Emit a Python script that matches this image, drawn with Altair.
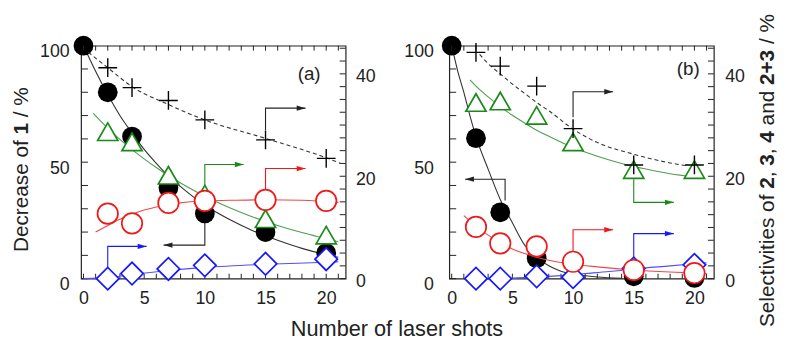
import altair as alt
import pandas as pd

FONT = "Liberation Sans"
W, H = 268, 236
XDOM = [-0.2, 21.6]
YL_DOM = [0, 100]
YR_DOM = [0, 45.5]
INK = "#222222"
GREEN_M, GREEN_L = "#1b8a1b", "#4f9f4f"
RED_M, RED_L = "#f01818", "#f04848"
BLUE_M, BLUE_L = "#1818ff", "#5050ff"

# ---------------- data ----------------
shots = [0, 2, 4, 7, 10, 15, 20]
sel_shots = [2, 4, 7, 10, 15, 20]

# panel (a)
a_dec = [100, 80, 61, 39, 28, 20, 11]
a_s23 = [41.2, 37.3, 34.8, 31.0, 27.1, 23.5]
a_s2 = [28.7, 26.7, 20.2, 16.5, 11.7, 8.5]
a_s3 = [12.7, 10.8, 14.8, 15.2, 15.4, 15.2]
a_s4 = [0.0, 1.0, 1.9, 2.6, 2.9, 3.8]

a_dec_fit_x = [0, 1, 2, 3, 4, 5, 6, 7, 8, 10, 12, 14, 16, 18, 20, 21]
a_dec_fit_y = [100, 89, 79, 70, 62.5, 55.5, 49.5, 44, 39.5, 31.5, 25.5, 20.5, 16.5, 13, 10.3, 9.2]
a_s23_fit_x = [0.4, 2, 4, 7, 10, 15, 20, 21.2]
a_s23_fit_y = [44.2, 41.2, 37.5, 34.0, 31.0, 27.4, 23.6, 22.5]
a_s2_fit_x = [0.8, 2, 3, 4, 5, 6, 7, 8, 10, 12, 14, 16, 18, 20, 21]
a_s2_fit_y = [32.3, 29.4, 27.2, 25.2, 23.4, 21.7, 20.1, 18.7, 16.1, 13.9, 12.0, 10.4, 9.0, 7.8, 7.2]
a_s3_fit_x = [1, 2, 3, 4, 5, 6, 7, 8, 10, 12, 15, 18, 21]
a_s3_fit_y = [9.1, 10.4, 11.6, 12.6, 13.4, 14.0, 14.5, 14.8, 15.2, 15.3, 15.4, 15.3, 14.9]
a_s4_fit_x = [0, 2, 4, 7, 10, 15, 20, 21]
a_s4_fit_y = [0.0, 0.2, 0.8, 1.6, 2.2, 2.8, 3.2, 3.3]

# panel (b)
b_dec_shots = [0, 2, 4, 7, 15, 20]
b_dec = [100, 60.3, 28.5, 8.8, 1.0, 0.3]
b_s23 = [44.2, 41.5, 37.6, 29.3, 22.2, 22.2]
b_s2 = [34.4, 34.7, 31.9, 26.7, 21.3, 21.3]
b_s3 = [10.1, 6.9, 6.3, 3.3, 1.7, 1.1]
b_s4 = [0.0, 0.0, 0.45, 0.3, 2.0, 2.7]

b_dec_fit_x = [0, 0.5, 1, 1.5, 2, 3, 4, 5, 6, 7, 8, 9, 10, 12, 14]
b_dec_fit_y = [100, 89, 80, 70, 61, 47, 34, 24, 14.5, 9, 5.5, 3.2, 2, 0.7, 0.2]
b_s23_fit_x = [2.3, 3, 4, 5, 6, 7, 8, 10, 12, 15, 18, 19.5]
b_s23_fit_y = [43.8, 42.0, 40.0, 38.0, 36.2, 34.4, 32.8, 29.2, 26.6, 24.3, 22.6, 22.0]
b_s2_fit_x = [1.5, 2, 3, 4, 5, 6, 7, 8, 10, 12, 14, 16, 18, 20, 20.8]
b_s2_fit_y = [38.8, 37.6, 35.5, 33.6, 31.9, 30.4, 29.0, 27.8, 25.6, 23.9, 22.5, 21.4, 20.5, 19.9, 19.7]
b_s3_fit_x = [1, 2, 3, 4, 5, 6, 7, 8, 10, 12, 15, 18, 21]
b_s3_fit_y = [12.3, 10.3, 8.5, 7.0, 5.8, 4.9, 4.2, 3.6, 2.8, 2.3, 1.7, 1.3, 1.0]
b_s4_fit_x = [2.5, 5, 7, 9, 11, 13, 15, 18, 21]
b_s4_fit_y = [0.0, 0.1, 0.3, 0.6, 1.0, 1.4, 1.9, 2.5, 3.1]

# axis-pointer arrows (x, right-axis value); last point carries the head
a_arrows_right = [
    (INK, [15, 15, 18.3], [29.0, 33.3, 33.3]),
    (GREEN_M, [10, 10, 13.2], [17.1, 22.3, 22.3]),
    (RED_M, [15, 15, 18.3], [16.7, 21.5, 21.5]),
    (BLUE_M, [2, 2, 5.2], [2.3, 6.3, 6.3]),
]
a_arrow_left = ([10, 10, 6.6], [28, 14.4, 14.4])
b_arrows_right = [
    (INK, [10, 10, 13.3], [31.5, 36.5, 36.5]),
    (GREEN_M, [15, 15, 18.3], [19.4, 14.9, 14.9]),
    (RED_M, [10, 10, 13.3], [5.25, 9.55, 9.55]),
    (BLUE_M, [15, 15, 18.3], [3.3, 8.8, 8.8]),
]
b_arrow_left = ([4.4, 4.4, 1.1], [33.5, 42.7, 42.7])

x_minor = list(range(0, 22))
x_major = [0, 5, 10, 15, 20]
yl_ticks = list(range(0, 101, 10))
yr_ticks = [i * 2.5 for i in range(0, 19)]
yr_major = [0, 20, 40]

# ---------------- scales / axes ----------------
xs = alt.Scale(domain=XDOM, nice=False, zero=False)
yls = alt.Scale(domain=YL_DOM, nice=False, zero=False)
yrs = alt.Scale(domain=YR_DOM, nice=False, zero=False)

lab = dict(labelFont=FONT, labelFontSize=18, labelColor=INK, ticks=False,
           domain=False, grid=False, title=None)
X_AXIS = alt.Axis(values=x_major, labelPadding=11, labelFlush=False, format="d", **lab)


def y_axis_left(pad):
    return alt.Axis(values=[0, 50, 100], orient="left", labelPadding=pad,
                    labelOffset=6, format="d", **lab)


def y_axis_right(pad):
    return alt.Axis(values=yr_major, orient="right", labelPadding=pad,
                    labelOffset=3, format="d", **lab)


def frame_df(xv, yv):
    return pd.DataFrame({"x": xv, "y": yv})


HEAD_R = "M0,0L-2,-0.6L-2,0.6Z"
HEAD_L = "M0,0L2,-0.6L2,0.6Z"
PLUS = "M-1,0L1,0M0,-1L0,1"


def text(t, x, y, size, weight="normal", angle=0, align="center", baseline="middle"):
    return alt.Chart(pd.DataFrame({"a": [0]})).mark_text(
        text=t, font=FONT, fontSize=size, fontWeight=weight, angle=angle,
        align=align, baseline=baseline, color=INK).encode(x=alt.value(x), y=alt.value(y))


def rotated_pieces(pieces, x, y0, size, baseline="middle"):
    # pieces: (text, weight, advance-from-start in em)
    return [text(t, x, y0 - off * size, size, w, angle=270, align="left", baseline=baseline)
            for t, w, off in pieces]


def build_panel(dx, dy, dfx, dfy, s23, s2, s3, s4, f23, f2, f3, f4, arr_r, arr_l,
                tag, tag_xy, lpad, rpad, extra):
    YL = y_axis_left(lpad)
    YR = y_axis_right(rpad)

    def enc(yscale):
        yax = YL if yscale is yls else YR
        return dict(x=alt.X("x:Q", scale=xs, axis=X_AXIS),
                    y=alt.Y("y:Q", scale=yscale, axis=yax))

    def curve(xv, yv, yscale, color, dash=None):
        kw = dict(color=color, strokeWidth=1.1, interpolate="monotone")
        if dash:
            kw["strokeDash"] = dash
        return alt.Chart(frame_df(xv, yv)).mark_line(**kw).encode(**enc(yscale))

    def markers(xv, yv, yscale, **mk):
        return alt.Chart(frame_df(xv, yv)).mark_point(opacity=1, **mk).encode(**enc(yscale))

    def arrow(col, xv, yv, yscale, head):
        df = pd.DataFrame({"x": xv, "y": yv, "i": list(range(len(xv)))})
        line = alt.Chart(df).mark_line(color=col, strokeWidth=1.1).encode(
            order="i:Q", **enc(yscale))
        tip = alt.Chart(frame_df([xv[-1]], [yv[-1]])).mark_point(
            shape=head, size=81, filled=True, color=col, opacity=1).encode(**enc(yscale))
        return [line, tip]

    # ---- left-scale group ----
    lt = alt.Chart(pd.DataFrame({"y": yl_ticks})).mark_rule(color=INK, strokeWidth=1).encode(
        x=alt.value(0), x2=alt.value(7), y=alt.Y("y:Q", scale=yls, axis=YL))
    circ = markers(dx, dy, yls, shape="circle", size=400, filled=True, color="black")
    left_group = alt.layer(lt, curve(dfx, dfy, yls, "#333333"),
                           *arrow(INK, arr_l[0], arr_l[1], yls, HEAD_L), circ)

    # ---- right-scale group ----
    rt = alt.Chart(pd.DataFrame({"y": yr_ticks})).mark_rule(color=INK, strokeWidth=1).encode(
        x=alt.value(W), x2=alt.value(W - 6), y=alt.Y("y:Q", scale=yrs, axis=YR))
    top = alt.Chart(pd.DataFrame({"x": x_minor})).mark_rule(color=INK, strokeWidth=1).encode(
        x=alt.X("x:Q", scale=xs, axis=X_AXIS), y=alt.value(0), y2=alt.value(5))
    bot = alt.Chart(pd.DataFrame({"x": x_minor})).mark_rule(color=INK, strokeWidth=1).encode(
        x=alt.X("x:Q", scale=xs, axis=X_AXIS), y=alt.value(H), y2=alt.value(H - 5))
    layers = [rt, top, bot,
              curve(f23[0], f23[1], yrs, "#333333", dash=[4, 3]),
              curve(f2[0], f2[1], yrs, GREEN_L),
              curve(f3[0], f3[1], yrs, RED_L),
              curve(f4[0], f4[1], yrs, BLUE_L)]
    for col, xv, yv in arr_r:
        layers += arrow(col, xv, yv, yrs, HEAD_R)
    layers += [
        markers(sel_shots, s2, yrs, shape="triangle-up", size=420, filled=True, fill="white",
                stroke=GREEN_M, strokeWidth=1.7),
        markers(sel_shots, s4, yrs, shape="diamond", size=520, filled=True, fill="white",
                stroke=BLUE_M, strokeWidth=1.7),
        markers(sel_shots, s3, yrs, shape="circle", size=430, filled=True, fill="white",
                stroke=RED_M, strokeWidth=1.7),
        markers(sel_shots, s23, yrs, shape=PLUS, size=361, filled=False, stroke="black",
                strokeWidth=1.4),
        text(tag, tag_xy[0], tag_xy[1], 19),
    ]
    layers += extra
    right_group = alt.layer(*layers)
    return alt.layer(left_group, right_group).resolve_scale(y="independent").properties(
        width=W, height=H)


# titles (advances in em of Liberation Sans / Arial)
left_title = rotated_pieces([("Decrease of", "normal", 0.0), ("1", "bold", 5.669),
                             ("/ %", "normal", 6.503)], -60, 209, 21)
x_title = [text("Number of laser shots", 320, 287, 22)]
right_title = rotated_pieces([
    ("Selectivities of", "normal", 0.0), ("2", "bold", 6.669), (",", "normal", 7.225),
    ("3", "bold", 7.781), (",", "normal", 8.337), ("4", "bold", 8.893),
    ("and", "normal", 9.727), ("2+3", "bold", 11.673), ("/ %", "normal", 13.647)],
    329, 285, 21, baseline="alphabetic")

pa = build_panel(shots, a_dec, a_dec_fit_x, a_dec_fit_y, a_s23, a_s2, a_s3, a_s4,
                 (a_s23_fit_x, a_s23_fit_y), (a_s2_fit_x, a_s2_fit_y),
                 (a_s3_fit_x, a_s3_fit_y), (a_s4_fit_x, a_s4_fit_y),
                 a_arrows_right, a_arrow_left, "(a)", (231, 29), 12, 10, left_title + x_title)
pb = build_panel(b_dec_shots, b_dec, b_dec_fit_x, b_dec_fit_y, b_s23, b_s2, b_s3, b_s4,
                 (b_s23_fit_x, b_s23_fit_y), (b_s2_fit_x, b_s2_fit_y),
                 (b_s3_fit_x, b_s3_fit_y), (b_s4_fit_x, b_s4_fit_y),
                 b_arrows_right, b_arrow_left, "(b)", (242, 24), 16, 11, right_title)

chart = alt.hconcat(pa, pb, spacing=105, bounds="flush").properties(
    padding={"left": 2, "top": 3, "right": 0, "bottom": 0}
).configure(font=FONT).configure_view(stroke=INK, strokeWidth=1.2)

chart.save("out.html", embed_options={"renderer": "svg", "actions": False})
